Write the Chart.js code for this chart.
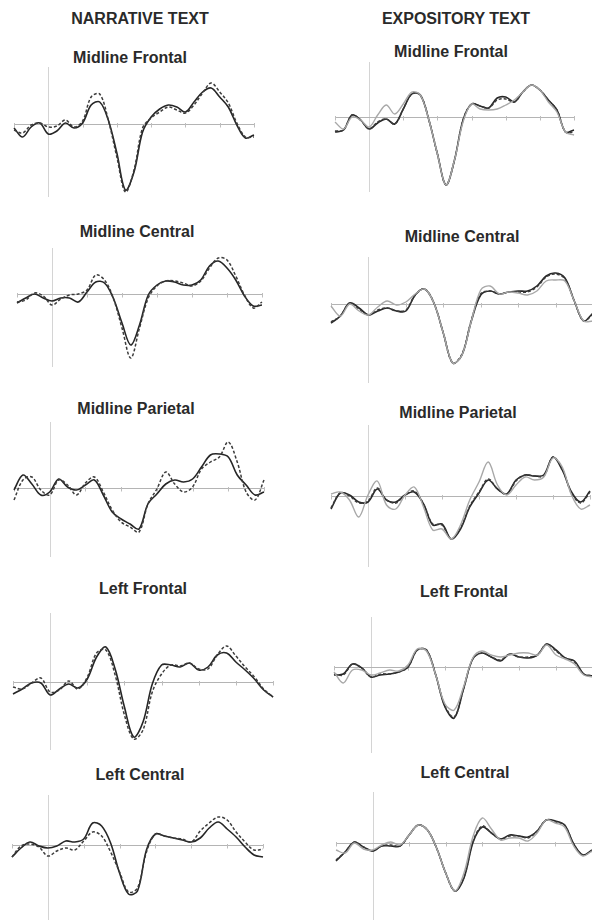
<!DOCTYPE html>
<html><head><meta charset="utf-8">
<script src="https://cdn.jsdelivr.net/npm/chart.js@4.4.1/dist/chart.umd.min.js"></script>
<style>
html,body{margin:0;padding:0;background:#fff;}
body{width:592px;height:922px;position:relative;overflow:hidden;font-family:"Liberation Sans",Arial,sans-serif;}
.t{position:absolute;transform:translate(-50%,-50%);font-weight:bold;color:#2a2a2a;white-space:nowrap;font-size:16px;line-height:1;}
canvas{position:absolute;}
</style></head><body>
<script>
// time points (ms) and axis tick marks
const times = [-100,-75,-50,-25,0,25,50,75,100,125,150,175,200,225,250,275,300,325,350,375,400,425,450,475,500,525,550,575,600];
const tickTimes = [-100,0,100,200,300,400,500,600];

const columnTitles = ["NARRATIVE TEXT", "EXPOSITORY TEXT"];
const panelTitles = ["Midline Frontal","Midline Frontal","Midline Central","Midline Central","Midline Parietal","Midline Parietal","Left Frontal","Left Frontal","Left Central","Left Central"];

// ---- Narrative: Midline Frontal
const nmfDashed = [-0.6,-0.9,-0.1,0.1,-0.3,-0.2,0.4,-0.3,0.3,2.7,3.0,0.4,-3.3,-6.8,-4.6,-0.4,0.6,1.2,1.7,1.4,1.1,1.9,3.1,4.1,3.2,2.1,0.1,-1.3,-1.3];
const nmfSolid  = [-0.4,-1.3,-0.3,0.1,-1.0,-0.7,0.1,-0.4,0.1,1.9,2.2,0.4,-2.9,-6.6,-4.8,-0.8,0.7,1.5,1.9,1.7,1.2,2.2,3.2,3.6,2.7,1.7,-0.1,-1.4,-1.1];
// ---- Expository: Midline Frontal
const emfGrey   = [-0.5,-1.2,0.0,-0.3,-1.0,0.2,1.2,0.3,1.3,2.5,2.2,-0.3,-3.7,-6.8,-4.3,-0.5,1.3,0.8,0.7,0.8,1.2,1.7,2.5,3.2,2.7,1.5,0.5,-1.5,-1.8];
const emfDashed = [-1.4,-1.3,0.2,-0.3,-1.2,-0.5,-0.2,-0.7,0.8,2.3,2.2,-0.3,-3.7,-6.8,-4.3,-0.3,1.3,1.1,0.9,1.7,1.8,1.5,2.5,3.2,2.7,1.7,0.7,-1.5,-1.5];
const emfSolid  = [-1.5,-1.3,0.2,-0.3,-1.2,-0.6,-0.2,-0.7,0.8,2.3,2.2,-0.3,-3.7,-6.8,-4.3,-0.3,1.3,1.1,0.9,1.9,2.0,1.5,2.5,3.2,2.7,1.7,0.7,-1.5,-1.3];
// ---- Narrative: Midline Central
const nmcDashed = [-0.8,-0.6,0.1,-0.2,-1.1,-0.5,-0.1,0.0,0.4,1.9,1.4,-0.4,-3.4,-6.4,-3.4,-0.4,0.8,1.3,1.3,1.1,0.8,1.3,2.6,3.6,3.4,1.8,-0.1,-1.4,-0.8];
const nmcSolid  = [-0.9,-0.4,0.0,-0.4,-0.7,-0.4,-0.4,-0.8,0.2,1.2,1.1,-0.4,-2.9,-5.1,-3.1,-0.1,0.9,1.3,1.2,0.9,0.9,1.4,2.8,3.3,2.6,1.4,-0.2,-1.2,-1.1];
// ---- Expository: Midline Central
const emcGrey   = [-0.2,-1.2,0.0,-0.7,-1.1,-0.3,0.3,-0.1,0.2,1.0,1.5,0.1,-2.9,-5.9,-5.1,-1.7,1.4,1.8,1.0,1.2,1.1,0.9,1.3,2.3,2.4,2.3,0.3,-1.7,-1.7];
const emcDashed = [-1.8,-1.2,0.1,-0.5,-1.1,-0.6,-0.4,-0.7,-0.6,0.9,1.5,0.1,-2.9,-5.9,-5.0,-1.6,1.0,1.3,1.0,1.2,1.2,1.2,1.7,2.7,3.0,2.5,0.3,-1.7,-1.0];
const emcSolid  = [-1.9,-1.2,0.1,-0.4,-1.1,-0.7,-0.4,-0.7,-0.7,0.9,1.5,0.1,-2.9,-5.9,-5.1,-1.7,0.9,1.3,1.0,1.2,1.3,1.3,1.8,2.8,3.1,2.6,0.3,-1.7,-0.9];
// ---- Narrative: Midline Parietal
const nmpDashed = [-1.2,0.8,1.1,-0.2,-0.7,0.8,0.3,-0.7,0.5,1.1,-0.4,-2.2,-3.4,-3.9,-4.4,-1.6,-0.1,1.6,0.4,-0.4,0.1,1.9,2.6,3.1,4.6,2.6,-0.4,-1.2,0.8];
const nmpSolid  = [-0.2,1.3,0.4,-0.7,-0.4,0.9,0.1,-0.2,0.3,0.8,-0.7,-2.4,-3.1,-3.6,-4.1,-1.6,-0.6,0.4,0.8,0.6,0.9,2.1,3.3,3.4,3.1,1.3,0.3,-0.7,-0.4];
// ---- Expository: Midline Parietal
const empGrey   = [0.2,0.4,-0.4,-2.1,0.1,1.5,-0.9,-1.3,0.1,0.9,-1.1,-3.4,-3.3,-4.3,-2.9,-0.4,1.4,3.4,1.1,0.1,1.1,1.9,1.6,1.9,3.8,2.9,0.1,-1.3,-0.9];
const empDashed = [-1.2,0.3,0.0,-0.7,-0.5,0.8,-0.4,-0.7,0.1,0.5,-0.8,-2.8,-2.9,-4.3,-3.2,-1.0,0.4,1.7,0.7,0.2,1.5,2.1,2.0,2.0,3.9,2.7,0.3,-0.7,0.4];
const empSolid  = [-1.3,0.3,0.1,-0.6,-0.6,0.7,-0.4,-0.6,0.1,0.4,-0.8,-2.9,-2.8,-4.3,-3.3,-1.1,0.3,1.6,0.7,0.2,1.6,2.1,2.0,2.1,3.9,2.6,0.4,-0.6,0.5];
// ---- Narrative: Left Frontal
const nlfDashed = [-0.5,-0.7,-0.1,0.4,-1.0,-0.8,0.1,-0.7,0.5,2.9,3.2,0.7,-3.3,-5.7,-4.8,-1.0,0.8,1.7,1.6,1.9,1.3,1.3,2.7,3.6,2.6,1.5,0.5,-0.7,-1.5];
const nlfSolid  = [-1.2,-0.7,-0.1,-0.1,-1.3,-0.7,-0.2,-0.6,0.3,2.5,3.5,1.3,-2.5,-5.5,-4.0,-0.2,1.7,1.7,1.5,1.9,1.2,1.5,2.7,2.9,2.0,1.2,0.3,-0.8,-1.5];
// ---- Expository: Left Frontal
const elfGrey   = [-0.5,-1.6,-0.3,-0.3,-0.8,-0.6,-0.3,-0.4,0.2,1.8,1.6,-0.8,-3.7,-4.3,-2.0,0.9,1.6,1.2,1.0,1.2,1.4,1.4,1.2,2.2,1.2,0.8,0.3,-0.8,-1.0];
const elfDashed = [-0.7,-0.8,0.3,-0.1,-1.0,-0.7,-0.7,-0.5,0.0,1.7,1.7,-0.8,-3.9,-5.0,-2.2,0.8,1.4,1.0,0.7,1.3,1.0,1.0,1.2,2.3,1.6,0.9,0.5,-0.7,-0.9];
const elfSolid  = [-0.8,-0.7,0.3,-0.1,-1.0,-0.8,-0.7,-0.5,0.0,1.7,1.7,-0.8,-4.0,-5.1,-2.2,0.8,1.4,1.0,0.6,1.3,1.0,0.9,1.2,2.3,1.7,0.9,0.6,-0.7,-0.9];
// ---- Narrative: Left Central
const nlcDashed = [-1.2,-0.1,0.1,-0.2,-1.1,-0.6,-0.3,-0.5,0.4,1.3,0.9,-0.7,-2.7,-4.7,-4.3,-0.7,1.1,0.9,0.7,0.6,0.3,1.4,2.2,2.8,2.5,1.3,0.3,-0.5,-0.4];
const nlcSolid  = [-1.2,-0.3,0.3,-0.1,-0.3,-0.1,0.4,0.3,0.6,2.2,1.9,0.2,-2.8,-4.9,-4.6,-0.5,1.1,0.9,0.7,0.5,0.3,0.7,1.7,2.3,1.6,0.8,-0.2,-1.0,-1.2];
// ---- Expository: Left Central
const elcGrey   = [-0.7,-1.0,0.0,-0.6,-0.7,-0.2,0.1,-0.2,0.8,1.8,1.3,-0.5,-3.0,-4.8,-3.0,0.7,2.5,1.4,0.3,0.5,0.5,0.2,1.0,2.3,2.0,1.6,-0.3,-1.3,-0.8];
const elcDashed = [-1.7,-0.9,0.1,-0.4,-0.8,-0.3,-0.2,-0.3,0.8,1.8,1.3,-0.5,-3.0,-4.8,-3.4,0.2,1.7,1.0,0.4,0.7,0.7,0.5,1.2,2.3,2.1,1.8,-0.1,-1.2,-0.8];
const elcSolid  = [-1.8,-0.9,0.1,-0.4,-0.8,-0.3,-0.3,-0.3,0.8,1.8,1.3,-0.5,-3.0,-4.8,-3.5,0.1,1.6,1.0,0.4,0.8,0.7,0.6,1.2,2.3,2.2,1.8,-0.1,-1.2,-0.7];

// ---- styles
const STY = {
  solid:  {borderColor:'#262626', borderWidth:1.6, borderDash:[]},
  dashed: {borderColor:'#3c3c3c', borderWidth:1.5, borderDash:[3,2]},
  grey:   {borderColor:'#a8a8a8', borderWidth:1.4, borderDash:[]}
};

// ---- panel geometry (page pixels): title centre, x of -100/600 ms, y of zero line, top/bottom of vertical axis
const panels = [
  {title:0, tx:130, ty:58,  x0:13.5, x1:253,  axisY:124, top:67,  bottom:197, series:[[nmfDashed,'dashed'],[nmfSolid,'solid']]},
  {title:1, tx:451, ty:52,  x0:335,  x1:574,  axisY:117, top:62,  bottom:192, series:[[emfGrey,'grey'],[emfDashed,'dashed'],[emfSolid,'solid']]},
  {title:2, tx:137, ty:232, x0:17,   x1:262,  axisY:294, top:248, bottom:367, series:[[nmcDashed,'dashed'],[nmcSolid,'solid']]},
  {title:3, tx:462, ty:237, x0:331,  x1:593,  axisY:304, top:257, bottom:383, series:[[emcGrey,'grey'],[emcDashed,'dashed'],[emcSolid,'solid']]},
  {title:4, tx:136, ty:409, x0:13.5, x1:263,  axisY:488, top:422, bottom:557, series:[[nmpDashed,'dashed'],[nmpSolid,'solid']]},
  {title:5, tx:458, ty:413, x0:331,  x1:590,  axisY:496, top:425, bottom:567, series:[[empGrey,'grey'],[empDashed,'dashed'],[empSolid,'solid']]},
  {title:6, tx:143, ty:589, x0:12.5, x1:272,  axisY:682, top:613, bottom:750, series:[[nlfDashed,'dashed'],[nlfSolid,'solid']]},
  {title:7, tx:464, ty:592, x0:334,  x1:593,  axisY:667, top:617, bottom:753, series:[[elfGrey,'grey'],[elfDashed,'dashed'],[elfSolid,'solid']]},
  {title:8, tx:140, ty:775, x0:12,   x1:263,  axisY:845, top:795, bottom:920, series:[[nlcDashed,'dashed'],[nlcSolid,'solid']]},
  {title:9, tx:465, ty:773, x0:336,  x1:592,  axisY:843, top:792, bottom:920, series:[[elcGrey,'grey'],[elcDashed,'dashed'],[elcSolid,'solid']]}
];

function addText(txt, x, y, size){
  const d = document.createElement('div');
  d.className = 't'; d.textContent = txt;
  d.style.left = x + 'px'; d.style.top = y + 'px';
  if (size) d.style.fontSize = size + 'px';
  document.body.appendChild(d);
}
addText(columnTitles[0], 140, 19);
addText(columnTitles[1], 456, 19);

const axesPlugin = {
  id: 'erpAxes',
  beforeDatasetsDraw(chart) {
    const {ctx, scales:{x, y}, chartArea} = chart;
    const y0 = Math.round(y.getPixelForValue(0)) + 0.5;
    const xa = x.getPixelForValue(tickTimes[0]);
    const xb = x.getPixelForValue(tickTimes[tickTimes.length-1]);
    ctx.save();
    // vertical line at stimulus onset
    const xz = Math.round(x.getPixelForValue(0)) + 0.5;
    ctx.strokeStyle = '#d4d4d4'; ctx.lineWidth = 1;
    ctx.beginPath(); ctx.moveTo(xz, chartArea.top); ctx.lineTo(xz, chartArea.bottom); ctx.stroke();
    // zero line
    ctx.strokeStyle = '#b4b4b4';
    ctx.beginPath(); ctx.moveTo(xa, y0); ctx.lineTo(xb, y0); ctx.stroke();
    // tick marks
    ctx.strokeStyle = '#bdbdbd';
    tickTimes.forEach(t => {
      if (t === 0) return;
      const px = Math.round(x.getPixelForValue(t)) + 0.5;
      ctx.beginPath(); ctx.moveTo(px, y0 - 1.5); ctx.lineTo(px, y0 + 3); ctx.stroke();
    });
    ctx.restore();
  }
};

const PAD = 4;
panels.forEach(p => {
  addText(panelTitles[p.title], p.tx, p.ty);
  const c = document.createElement('canvas');
  const w = Math.round(p.x1 - p.x0) + 2*PAD, h = (p.bottom - p.top) + 2*PAD;
  c.width = w; c.height = h;
  c.style.width = w + 'px'; c.style.height = h + 'px';
  c.style.left = (p.x0 - PAD) + 'px'; c.style.top = (p.top - PAD) + 'px';
  document.body.appendChild(c);
  const yMax = (p.axisY - p.top) / 10, yMin = (p.axisY - p.bottom) / 10;
  new Chart(c, {
    type: 'line',
    data: {
      datasets: p.series.map(([vals, st]) => Object.assign({
        data: times.map((t, i) => ({x: t, y: vals[i]})),
        pointRadius: 0, fill: false, tension: 0.35, clip: false
      }, STY[st]))
    },
    options: {
      responsive: false, animation: false, events: [],
      layout: {padding: PAD},
      plugins: {legend: {display: false}, tooltip: {enabled: false}, title: {display: false}},
      scales: {
        x: {type: 'linear', min: -100, max: 600, display: false},
        y: {type: 'linear', min: yMin, max: yMax, display: false}
      }
    },
    plugins: [axesPlugin]
  });
});
</script></body></html>
